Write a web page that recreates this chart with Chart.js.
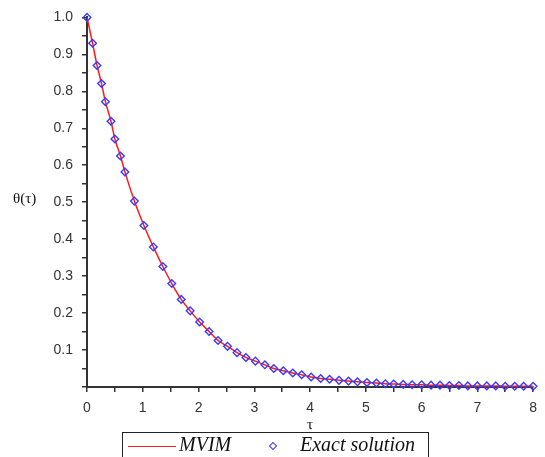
<!DOCTYPE html>
<html>
<head>
<meta charset="utf-8">
<script src="https://cdn.jsdelivr.net/npm/chart.js@4"></script>
<style>
  body { margin: 0; background: #fff; }
  #wrap { position: relative; width: 545px; height: 457px; }
  #ylab { position: absolute; left: 13px; top: 190px; font: 15px 'Liberation Serif', serif; color: #111; }
  #xlab { position: absolute; left: 307px; top: 416px; font: 15px 'Liberation Serif', serif; color: #111; }
  #legend { position: absolute; left: 122px; top: 432px; width: 307px; height: 26px; border: 1.5px solid #222; box-sizing: border-box; background: #fff; }
  #legend .ln { position: absolute; left: 5px; top: 13px; width: 48px; height: 0; border-top: 1.5px solid #ff2020; }
  #legend .dm { position: absolute; left: 147px; top: 10px; width: 4px; height: 4px; border: 1.3px solid #3a3aff; transform: rotate(45deg); }
  #legend span { position: absolute; top: 0; line-height: 25px; font: italic 20px 'Liberation Serif', serif; color: #111; }
</style>
</head>
<body>
<div id="wrap">
  <canvas id="myChart"></canvas>
  <div id="ylab">θ(τ)</div>
  <div id="xlab">τ</div>
  <div id="legend">
    <div class="ln"></div><span style="left:56px">MVIM</span>
    <div class="dm"></div><span style="left:177px">Exact solution</span>
  </div>
</div>
<script>
// values
var tau = [0, 0.1, 0.18, 0.26, 0.33, 0.43, 0.5, 0.6, 0.68, 0.85, 1.02, 1.19, 1.36, 1.52, 1.69, 1.85, 2.02, 2.19, 2.35, 2.52, 2.69, 2.85, 3.02, 3.19, 3.35, 3.52, 3.69, 3.85, 4.02, 4.19, 4.35, 4.52, 4.69, 4.85, 5.02, 5.19, 5.35, 5.5, 5.67, 5.83, 6.0, 6.17, 6.33, 6.5, 6.67, 6.83, 7.0, 7.17, 7.33, 7.5, 7.67, 7.83, 8.0];
var thetaExact = [1.0, 0.93, 0.87, 0.821, 0.772, 0.719, 0.671, 0.625, 0.582, 0.503, 0.437, 0.379, 0.326, 0.28, 0.237, 0.206, 0.176, 0.15, 0.126, 0.11, 0.093, 0.08, 0.07, 0.06, 0.05, 0.044, 0.038, 0.033, 0.027, 0.023, 0.021, 0.018, 0.016, 0.014, 0.012, 0.011, 0.009, 0.008, 0.007, 0.006, 0.006, 0.005, 0.005, 0.004, 0.004, 0.003, 0.003, 0.003, 0.003, 0.002, 0.002, 0.002, 0.002];
var thetaMVIM = [1.0, 0.93, 0.87, 0.821, 0.772, 0.719, 0.671, 0.625, 0.582, 0.503, 0.437, 0.379, 0.326, 0.28, 0.237, 0.206, 0.176, 0.15, 0.126, 0.11, 0.093, 0.08, 0.07, 0.06, 0.05, 0.044, 0.038, 0.033, 0.027, 0.023, 0.021, 0.018, 0.016, 0.014, 0.012, 0.011, 0.009, 0.008, 0.007, 0.006, 0.006, 0.005, 0.005, 0.004, 0.004, 0.003, 0.003, 0.003, 0.003, 0.002, 0.002, 0.002, 0.002];
var xTickLabels = ['0', '1', '2', '3', '4', '5', '6', '7', '8'];
var yTickLabels = ['0.1', '0.2', '0.3', '0.4', '0.5', '0.6', '0.7', '0.8', '0.9', '1.0'];

function pts(ys) {
    return tau.map(function (t, i) { return { x: t, y: ys[i] }; });
}

var tickFont = { family: "'Liberation Sans', Arial, sans-serif", size: 14 };

var ctx = document.getElementById("myChart").getContext('2d');
var myChart = new Chart(ctx, {
    type: 'line',
    data: {
        datasets: [{
            label: 'MVIM',
            data: pts(thetaMVIM),
            borderColor: '#ff1a1a',
            borderWidth: 1.5,
            pointRadius: 0,
            cubicInterpolationMode: 'monotone',
            fill: false,
            order: 2
        }, {
            label: 'Exact solution',
            data: pts(thetaExact),
            showLine: false,
            pointStyle: 'rectRot',
            pointRadius: 3.8,
            pointBorderWidth: 1.4,
            pointBorderColor: '#3a3aff',
            pointBackgroundColor: 'rgba(255,255,255,0)',
            clip: false,
            order: 1
        }]
    },
    options: {
        responsive: true,
        maintainAspectRatio: false,
        animation: false,
        layout: { padding: { top: 14, right: 4, left: 0, bottom: 0 } },
        plugins: {
            legend: { display: false },
            tooltip: { enabled: false }
        },
        scales: {
            x: {
                type: 'linear',
                min: 0,
                max: 8,
                afterFit: function (s) { s.height = 70; },
                ticks: {
                    stepSize: 0.5,
                    autoSkip: false,
                    maxRotation: 0,
                    padding: 8,
                    color: '#333',
                    font: tickFont,
                    callback: function (v) {
                        return Number.isInteger(v) ? xTickLabels[v] : '';
                    }
                },
                grid: { drawOnChartArea: false, drawTicks: true, tickLength: 5, color: '#333', lineWidth: 1.5 },
                border: { color: '#333', width: 2 }
            },
            y: {
                min: 0,
                max: 1,
                afterFit: function (s) { s.width = 87; },
                ticks: {
                    stepSize: 0.05,
                    autoSkip: false,
                    padding: 9,
                    color: '#333',
                    font: tickFont,
                    callback: function (v) {
                        var k = Math.round(v * 20);
                        return (k > 0 && k % 2 === 0) ? yTickLabels[k / 2 - 1] : '';
                    }
                },
                grid: { drawOnChartArea: false, drawTicks: true, tickLength: 5, color: '#333', lineWidth: 1.5 },
                border: { color: '#333', width: 2 }
            }
        }
    }
});
</script>
</body>
</html>
